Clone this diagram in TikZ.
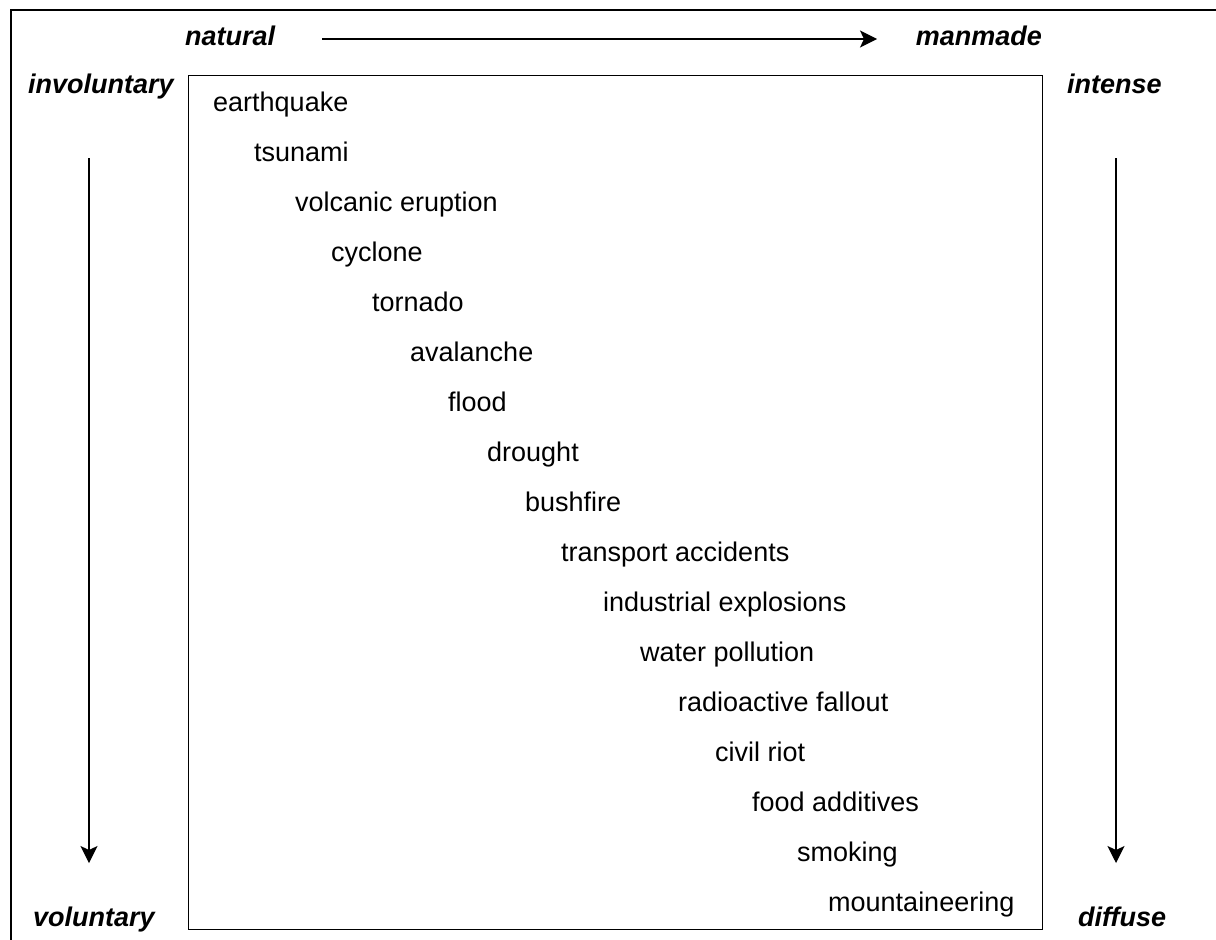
\documentclass[tikz,border=0pt]{standalone}
\usepackage{fontspec}
\setmainfont{Liberation Sans}
\usetikzlibrary{arrows.meta}

\begin{document}
\begin{tikzpicture}[x=1pt, y=-1pt,
  item/.style={anchor=base west, inner sep=0pt, font=\fontsize{27}{32}\selectfont},
  pole/.style={inner sep=0pt, font=\fontsize{27}{32}\selectfont\bfseries\itshape},
  axis/.style={line width=1.3pt, -{Stealth[length=17pt, width=17pt, inset=4pt]}}]
\useasboundingbox (0,0) rectangle (1216,940);
% frame and scale box
\draw[line width=2pt] (11,940) -- (11,10) -- (1216,10);
\draw[line width=1pt] (188,75) rectangle (1042,929);

% ends of the scales
\node[pole, anchor=base west] (nat) at (185,45) {natural};
\node[pole, anchor=base east] (man) at (1042,45) {manmade};
\node[pole, anchor=base west] (invol) at (28,93) {involuntary};
\node[pole, anchor=base west] (vol) at (33,926) {voluntary};
\node[pole, anchor=base west] (ints) at (1067,93) {intense};
\node[pole, anchor=base west] (diff) at (1078,926) {diffuse};

\coordinate (h1) at (322,39);
\coordinate (h2) at (877,39);
\coordinate (l1) at (89,158);
\coordinate (l2) at (89,863);
\coordinate (r1) at (1116,158);
\coordinate (r2) at (1116,863);
\draw[axis] (h1) -- (h2);
\draw[axis] (l1) -- (l2);
\draw[axis] (r1) -- (r2);

% hazards
\node[item] (a) at (213,111) {earthquake};
\node[item] (b) at (254,161) {tsunami};
\node[item] (c) at (295,211) {volcanic eruption};
\node[item] (d) at (331,261) {cyclone};
\node[item] (e) at (372,311) {tornado};
\node[item] (f) at (410,361) {avalanche};
\node[item] (g) at (448,411) {flood};
\node[item] (h) at (487,461) {drought};
\node[item] (i) at (525,511) {bushfire};
\node[item] (j) at (561,561) {transport accidents};
\node[item] (k) at (603,611) {industrial explosions};
\node[item] (l) at (640,661) {water pollution};
\node[item] (m) at (678,711) {radioactive fallout};
\node[item] (n) at (715,761) {civil riot};
\node[item] (o) at (752,811) {food additives};
\node[item] (p) at (797,861) {smoking};
\node[item] (q) at (828,911) {mountaineering};
\end{tikzpicture}
\end{document}
